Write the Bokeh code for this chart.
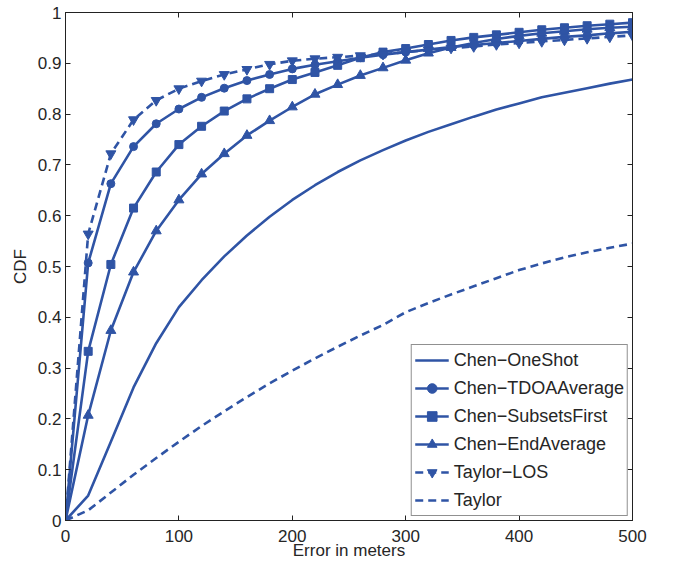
from bokeh.plotting import figure
from bokeh.models import Range1d, LinearAxis, FixedTicker
from bokeh.embed import file_html
from bokeh.resources import INLINE

# ---- data ----
error_m = [0, 20, 40, 60, 80, 100, 120, 140, 160, 180, 200, 220, 240,
           260, 280, 300, 320, 340, 360, 380, 400, 420, 440, 460, 480, 500]

chen_oneshot = [0, 0.049, 0.155, 0.262, 0.349, 0.420, 0.473, 0.520, 0.561, 0.598,
                0.631, 0.660, 0.686, 0.709, 0.729, 0.748, 0.765, 0.780, 0.795,
                0.809, 0.821, 0.833, 0.842, 0.851, 0.860, 0.868]

chen_tdoaaverage = [0, 0.507, 0.663, 0.736, 0.781, 0.810, 0.833, 0.851, 0.866, 0.878,
                    0.889, 0.897, 0.904, 0.911, 0.917, 0.922, 0.927, 0.932, 0.936,
                    0.940, 0.944, 0.948, 0.952, 0.955, 0.959, 0.962]

chen_subsetsfirst = [0, 0.333, 0.504, 0.615, 0.686, 0.740, 0.776, 0.806, 0.830, 0.850,
                     0.868, 0.882, 0.896, 0.911, 0.922, 0.929, 0.937, 0.945, 0.951,
                     0.956, 0.961, 0.966, 0.970, 0.974, 0.977, 0.980]

chen_endaverage = [0, 0.207, 0.374, 0.489, 0.570, 0.631, 0.682, 0.722, 0.758, 0.787,
                   0.814, 0.839, 0.858, 0.876, 0.891, 0.906, 0.920, 0.931, 0.940,
                   0.948, 0.954, 0.959, 0.963, 0.967, 0.970, 0.972]

taylor_los = [0, 0.564, 0.722, 0.789, 0.827, 0.850, 0.865, 0.878, 0.888, 0.898,
              0.905, 0.909, 0.912, 0.915, 0.918, 0.922, 0.926, 0.930, 0.933,
              0.937, 0.940, 0.943, 0.946, 0.949, 0.952, 0.955]

taylor = [0, 0.020, 0.055, 0.090, 0.123, 0.155, 0.186, 0.215, 0.243, 0.270,
          0.295, 0.319, 0.342, 0.364, 0.385, 0.410, 0.428, 0.445, 0.461,
          0.477, 0.493, 0.506, 0.518, 0.528, 0.537, 0.545]

x_ticks = [0, 100, 200, 300, 400, 500]
y_ticks = [0, 0.1, 0.2, 0.3, 0.4, 0.5, 0.6, 0.7, 0.8, 0.9, 1]
y_tick_labels = ["0", "0.1", "0.2", "0.3", "0.4", "0.5", "0.6", "0.7", "0.8", "0.9", "1"]

x_label = "Error in meters"
y_label = "CDF"

# ---- styling ----
BLUE = "#2F54A5"
FONT = "Liberation Sans"
TXT = "#262626"
LW = 2.6
DASH = "8 5"

p = figure(width=675, height=565, output_backend="svg", toolbar_location=None,
           x_range=Range1d(0, 500), y_range=Range1d(0, 1),
           min_border_left=65, min_border_right=43, min_border_top=12,
           min_border_bottom=45, background_fill_color="white",
           border_fill_color="white")
p.grid.visible = False
p.outline_line_color = "#222222"
p.outline_line_width = 1

# series
p.line(error_m, chen_oneshot, color=BLUE, line_width=LW, legend_label="Chen\u2212OneShot")

p.line(error_m, chen_tdoaaverage, color=BLUE, line_width=LW, legend_label="Chen\u2212TDOAAverage")
p.scatter(error_m, chen_tdoaaverage, marker="circle", size=8, color=BLUE,
          legend_label="Chen\u2212TDOAAverage")

p.line(error_m, chen_subsetsfirst, color=BLUE, line_width=LW, legend_label="Chen\u2212SubsetsFirst")
p.scatter(error_m, chen_subsetsfirst, marker="square", size=8, color=BLUE,
          legend_label="Chen\u2212SubsetsFirst")

p.line(error_m, chen_endaverage, color=BLUE, line_width=LW, legend_label="Chen\u2212EndAverage")
p.scatter(error_m, chen_endaverage, marker="triangle", size=10, color=BLUE,
          legend_label="Chen\u2212EndAverage")

p.line(error_m, taylor_los, color=BLUE, line_width=LW, line_dash=DASH, legend_label="Taylor\u2212LOS")
p.scatter(error_m, taylor_los, marker="inverted_triangle", size=10, color=BLUE,
          legend_label="Taylor\u2212LOS")

p.line(error_m, taylor, color=BLUE, line_width=LW, line_dash=DASH, legend_label="Taylor")

# axes
def style_axis(ax, show_labels):
    ax.major_tick_in = 5
    ax.major_tick_out = 0
    ax.minor_tick_line_color = None
    ax.axis_line_color = "#222222"
    ax.major_tick_line_color = "#222222"
    ax.major_label_text_font = FONT
    ax.major_label_text_color = TXT
    if show_labels:
        ax.major_label_text_font_size = "17px"
    else:
        ax.major_label_text_font_size = "0px"
        ax.major_label_standoff = 0

xa = p.xaxis[0]
xa.ticker = FixedTicker(ticks=x_ticks)
style_axis(xa, True)
xa.major_label_standoff = 9
xa.axis_label = x_label
xa.axis_label_text_font = FONT
xa.axis_label_text_font_size = "17px"
xa.axis_label_text_font_style = "normal"
xa.axis_label_text_color = TXT
xa.axis_label_standoff = -4

ya = p.yaxis[0]
ya.ticker = FixedTicker(ticks=y_ticks)
ya.major_label_overrides = {t: s for t, s in zip(y_ticks, y_tick_labels)}
style_axis(ya, True)
ya.major_label_standoff = 4
ya.axis_label = y_label
ya.axis_label_text_font = FONT
ya.axis_label_text_font_size = "17px"
ya.axis_label_text_font_style = "normal"
ya.axis_label_text_color = TXT
ya.axis_label_standoff = 5

top = LinearAxis(ticker=FixedTicker(ticks=x_ticks))
style_axis(top, False)
p.add_layout(top, "above")

right = LinearAxis(ticker=FixedTicker(ticks=y_ticks))
style_axis(right, False)
p.add_layout(right, "right")

# legend
lg = p.legend[0]
lg.location = "bottom_right"
lg.margin = 4
lg.padding = 3
lg.spacing = 4
lg.glyph_width = 34
lg.glyph_height = 24
lg.label_height = 24
lg.label_standoff = 5
lg.label_text_font = FONT
lg.label_text_font_size = "18px"
lg.label_text_color = TXT
lg.label_text_baseline = "middle"
lg.border_line_color = "#222222"
lg.border_line_width = 1
lg.background_fill_color = "white"
lg.background_fill_alpha = 1

open("out.html", "w").write(file_html(p, INLINE))
